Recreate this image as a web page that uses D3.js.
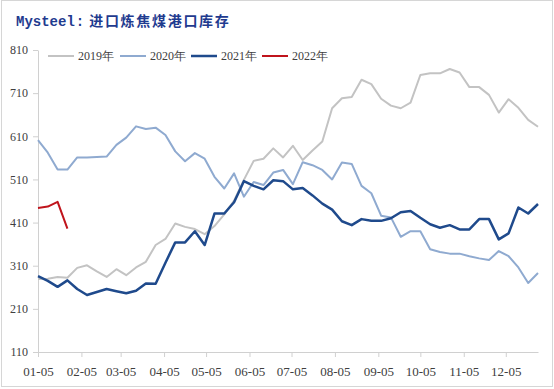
<!DOCTYPE html>
<html>
<head>
<meta charset="utf-8">
<script src="https://cdn.jsdelivr.net/npm/d3@7"></script>
<style>
  body { margin: 0; background: #fff; }
  svg text { font-family: "Liberation Serif", "DejaVu Serif", serif; }
</style>
</head>
<body>
<div class="chart"></div>
<script>
// weekly readings, first week starts 01-05
var startDate = "2021-01-05";
var endDate = "2021-12-28";
var tickLabels = ["01-05","02-05","03-05","04-05","05-05","06-05","07-05","08-05","09-05","10-05","11-05","12-05"];
var yTicks = [110, 210, 310, 410, 510, 610, 710, 810];
var seriesNames = ["2019年", "2020年", "2021年", "2022年"];
var seriesColors = ["#c3c3c3", "#8faad0", "#1f4a8c", "#c0141c"];

var v2019 = [279,280,284,282,305,311,297,284,302,288,306,319,358,372,408,400,395,383,402,429,
             461,509,553,558,582,561,588,555,577,598,675,698,701,741,731,697,681,675,688,752,
             756,756,766,758,724,724,706,665,696,676,648,632];
var v2020 = [601,572,533,533,561,561,562,563,590,607,633,627,630,613,575,552,571,558,516,489,
             524,470,504,497,526,532,499,550,543,532,510,549,546,495,478,426,422,377,390,390,
             348,342,338,338,332,327,323,344,332,306,270,293];
var v2021 = [286,275,261,276,256,242,249,256,251,246,252,269,268,317,364,364,390,358,431,431,
             457,506,495,487,508,506,487,490,473,454,440,413,404,418,414,414,420,434,437,421,
             406,398,404,394,394,418,418,371,385,445,431,453];
var v2022 = [444,447,458,396];

var allSeries = [v2019, v2020, v2021, v2022];

var svgWidth = 554, svgHeight = 389;
var margin = { top: 50, right: 16, bottom: 37, left: 38 };

var parse = d3.utcParse("%Y-%m-%d");
var t0 = parse(startDate);

function weekDate(i) {
    return d3.utcDay.offset(t0, i * 7);
}

var svg = d3.select(".chart")
    .append("svg")
    .attr("width", svgWidth)
    .attr("height", svgHeight);

// outer frame
svg.append("rect")
    .attr("x", 1.5).attr("y", 0.5)
    .attr("width", svgWidth - 3).attr("height", svgHeight - 3)
    .attr("fill", "none")
    .attr("stroke", "#d6d6d6");

// title, one text with three parts
var title = svg.append("text")
    .attr("x", 16).attr("y", 26)
    .attr("fill", "#1f3b8f")
    .style("font-weight", "bold")
    .style("font-size", "14px");
title.append("tspan")
    .style("font-family", "'Liberation Mono', 'DejaVu Sans Mono', monospace")
    .text("Mysteel");
title.append("tspan")
    .attr("dx", 1)
    .style("font-family", "'Liberation Mono', 'DejaVu Sans Mono', monospace")
    .text(":");
title.append("tspan")
    .attr("dx", 5)
    .attr("letter-spacing", "1.7")
    .style("font-family", "'Noto Sans CJK SC', sans-serif")
    .text("进口炼焦煤港口库存");

var xScale = d3.scaleUtc()
    .domain([parse(startDate), parse(endDate)])
    .range([margin.left, svgWidth - margin.right]);

var yScale = d3.scaleLinear()
    .domain([110, 810])
    .range([svgHeight - margin.bottom, margin.top]);

// axes
var xAxis = d3.axisBottom(xScale)
    .tickValues(tickLabels.map(function (m) { return parse("2021-" + m); }))
    .tickFormat(d3.utcFormat("%m-%d"))
    .tickSizeInner(5)
    .tickSizeOuter(0);

var yAxis = d3.axisLeft(yScale)
    .tickValues(yTicks)
    .tickSizeInner(5)
    .tickSizeOuter(0)
    .tickPadding(5);

var gx = svg.append("g")
    .attr("class", "axisX")
    .attr("transform", `translate(0,${svgHeight - margin.bottom})`)
    .call(xAxis);

var gy = svg.append("g")
    .attr("class", "axisY")
    .attr("transform", `translate(${margin.left},0)`)
    .call(yAxis);

[gx, gy].forEach(function (g) {
    g.select(".domain").attr("stroke", "#d0d0d0");
    g.selectAll(".tick line").attr("stroke", "#d0d0d0");
    g.selectAll(".tick text")
        .attr("fill", "#404040")
        .style("font-size", "12px")
        .style("font-family", "'Liberation Serif', serif");
});
gx.selectAll(".tick text").style("font-size", "13px").attr("dy", "1.2em");

// lines
var line = d3.line()
    .x(function (d, i) { return xScale(weekDate(i)); })
    .y(function (d) { return yScale(d); });

var widths = [2, 2, 2.5, 2];
allSeries.forEach(function (s, k) {
    svg.append("path")
        .datum(s)
        .attr("d", line)
        .attr("fill", "none")
        .attr("stroke", seriesColors[k])
        .attr("stroke-width", widths[k])
        .attr("stroke-linejoin", "round");
});

// legend
var legendX = [48, 120, 191, 262];
var legend = svg.append("g").attr("transform", "translate(0,56)");
seriesNames.forEach(function (name, k) {
    legend.append("line")
        .attr("x1", legendX[k]).attr("x2", legendX[k] + 26)
        .attr("y1", 0).attr("y2", 0)
        .attr("stroke", seriesColors[k])
        .attr("stroke-width", k == 2 ? 2.5 : 2);
    legend.append("text")
        .attr("x", legendX[k] + 30)
        .attr("y", 4)
        .attr("fill", "#404040")
        .style("font-size", "12px")
        .text(name);
});
</script>
</body>
</html>
